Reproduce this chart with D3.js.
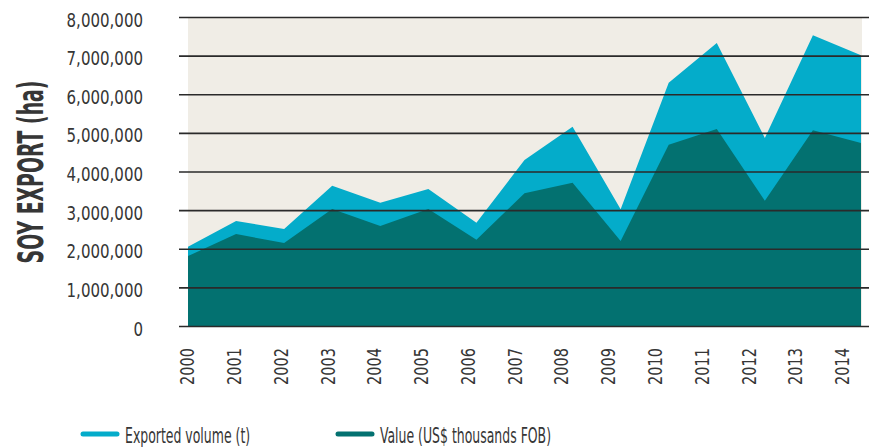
<!DOCTYPE html>
<html>
<head>
<meta charset="utf-8">
<script src="https://cdn.jsdelivr.net/npm/d3@7"></script>
<style>
  body { margin: 0; background: #fff; }
  text { font-family: "Liberation Sans Narrow", "DejaVu Sans Condensed", sans-serif; fill: #363636; }
</style>
</head>
<body>
<svg id="chart" width="874" height="448"></svg>
<script>
const years = ["2000","2001","2002","2003","2004","2005","2006","2007","2008","2009","2010","2011","2012","2013","2014"];
// Exported volume (t)
const volume = [2050000, 2720000, 2510000, 3630000, 3190000, 3550000, 2670000, 4300000, 5160000, 3020000, 6300000, 7330000, 4870000, 7530000, 7010000];
// Value (US$ thousands FOB)
const value = [1810000, 2380000, 2150000, 3030000, 2590000, 3030000, 2230000, 3440000, 3710000, 2200000, 4690000, 5100000, 3240000, 5070000, 4740000];
const yTicks = [0, 1000000, 2000000, 3000000, 4000000, 5000000, 6000000, 7000000, 8000000];
const seriesNames = ["Exported volume (t)", "Value (US$ thousands FOB)"];
const colors = ["#04acca", "#037170"];

const svg = d3.select("#chart");

// squeeze text horizontally to mimic the condensed face of the original
function condense(sel, k) {
  sel.each(function () {
    const w = this.getComputedTextLength();
    d3.select(this).attr("textLength", w * k).attr("lengthAdjust", "spacingAndGlyphs");
  });
}

const x = d3.scalePoint().domain(years).range([188, 861]);
const xLabel = d3.scalePoint().domain(years).range([187, 842]);
const y = d3.scaleLinear().domain([0, 8000000]).range([326, 17]);

// plot background
svg.append("rect")
    .attr("x", x(years[0]))
    .attr("y", y(8000000))
    .attr("width", 862 - x(years[0]))
    .attr("height", y(0) - y(8000000))
    .attr("fill", "#f0ede6");

const area = d3.area()
    .x((d, i) => x(years[i]))
    .y0(y(0) + 1)
    .y1(d => y(d));

svg.append("path").datum(volume).attr("d", area).attr("fill", colors[0]);
svg.append("path").datum(value).attr("d", area).attr("fill", colors[1]);

// gridlines + y labels
const yAxis = svg.append("g")
    .attr("transform", "translate(179,0)")
    .call(d3.axisRight(y).tickValues(yTicks).tickSize(690).tickFormat(d3.format(",")))
    .call(g => g.select(".domain").remove());
yAxis.selectAll(".tick line").attr("stroke", "#2a2a2a").attr("stroke-width", 1.6);
yAxis.selectAll(".tick text")
    .attr("x", -36)
    .attr("dy", "0.45em")
    .attr("text-anchor", "end")
    .attr("fill", "#363636")
    .style("font-size", "20px")
    .call(condense, 0.835);

// x labels
svg.append("g")
  .selectAll("text")
  .data(years)
  .join("text")
    .attr("transform", d => `translate(${xLabel(d)},348) rotate(-90)`)
    .attr("text-anchor", "end")
    .attr("dy", "0.36em")
    .style("font-size", "20px")
    .text(d => d)
    .call(condense, 0.81);

// y title, squeezed with a scale so its box stays true
const title = svg.append("text")
    .attr("text-anchor", "middle")
    .style("font-size", "36px")
    .style("font-weight", "bold")
    .attr("fill", "#1a1a1a")
    .text("SOY EXPORT (ha)");
const tw = title.node().getComputedTextLength();
title.attr("transform", `translate(43,172) rotate(-90) scale(${183 / tw},1)`);

// legend
const legendX = [83, 338];
const legend = svg.append("g")
  .selectAll("g")
  .data(seriesNames)
  .join("g")
    .attr("transform", (d, i) => `translate(${legendX[i]},434)`);
legend.append("line")
    .attr("x1", 0).attr("x2", 34)
    .attr("stroke", (d, i) => colors[i])
    .attr("stroke-width", 5)
    .attr("stroke-linecap", "round");
legend.append("text")
    .attr("x", 42)
    .attr("y", 9)
    .style("font-size", "21px")
    .text(d => d)
    .call(condense, 0.66);
</script>
</body>
</html>
